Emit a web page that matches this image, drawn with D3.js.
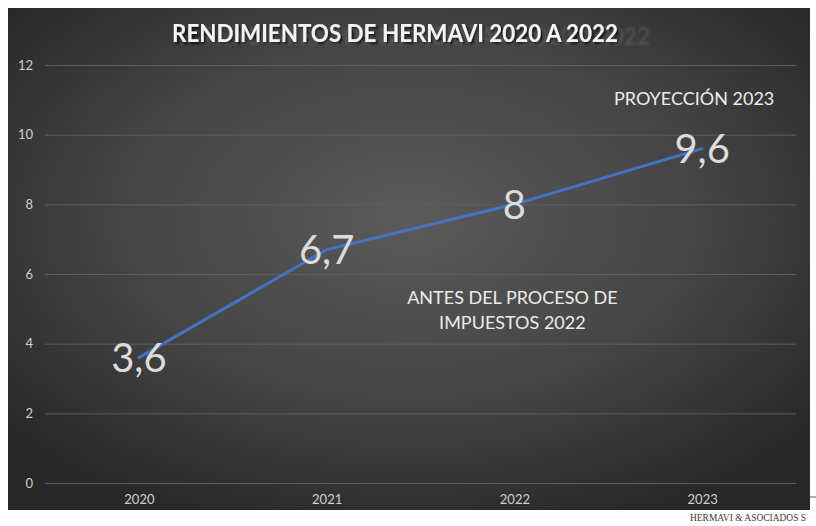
<!DOCTYPE html>
<html>
<head>
<meta charset="utf-8">
<script src="https://cdn.jsdelivr.net/npm/d3@7"></script>
<style>
  html, body { margin: 0; padding: 0; background: #fff; }
  svg { display: block; }
</style>
</head>
<body>
<div id="chart"></div>
<script>
/* Rendimientos de Hermavi, dark Excel-style line chart */

const years = ["2020", "2021", "2022", "2023"];
const rendimientos = [3.6, 6.7, 8, 9.6];
const yTicks = [0, 2, 4, 6, 8, 10, 12];
const valueLabels = ["3,6", "6,7", "8", "9,6"];
const titleText = "RENDIMIENTOS DE HERMAVI 2020 A 2022";
const notes = [
  { lines: ["PROYECCIÓN 2023"], year: "2023", value: 10.85, dx: -8 },
  { lines: ["ANTES DEL PROCESO DE", "IMPUESTOS 2022"], year: "2022", value: 5.13, dx: -2 }
];

const width = 816, height = 526;
const frame = { x: 8, y: 8, w: 802, h: 502 };
const margin = { top: 65, right: 16, bottom: 43, left: 45 };
const font = "Lato, 'Open Sans', sans-serif";

const svg = d3.select("#chart").append("svg")
  .attr("width", width)
  .attr("height", height);

const defs = svg.append("defs");
const grad = defs.append("radialGradient")
  .attr("id", "bg")
  .attr("cx", "50%").attr("cy", "42%").attr("r", "65%");
grad.append("stop").attr("offset", "0%").attr("stop-color", "#5a5a5a");
grad.append("stop").attr("offset", "55%").attr("stop-color", "#454545");
grad.append("stop").attr("offset", "100%").attr("stop-color", "#282828");

// title: a close drop shadow plus the faint offset "ghost" seen in the picture
const tf = defs.append("filter").attr("id", "titlefx")
  .attr("x", "-5%").attr("y", "-40%").attr("width", "115%").attr("height", "180%");
tf.append("feOffset").attr("in", "SourceAlpha").attr("dx", 32).attr("dy", 3).attr("result", "off1");
tf.append("feGaussianBlur").attr("in", "off1").attr("stdDeviation", 1).attr("result", "blur1");
tf.append("feColorMatrix").attr("in", "blur1").attr("type", "matrix")
  .attr("values", "0 0 0 0 0.12  0 0 0 0 0.12  0 0 0 0 0.12  0 0 0 0.5 0").attr("result", "ghost");
tf.append("feOffset").attr("in", "SourceAlpha").attr("dx", 1.5).attr("dy", 2).attr("result", "off2");
tf.append("feGaussianBlur").attr("in", "off2").attr("stdDeviation", 1.2).attr("result", "blur2");
tf.append("feColorMatrix").attr("in", "blur2").attr("type", "matrix")
  .attr("values", "0 0 0 0 0  0 0 0 0 0  0 0 0 0 0  0 0 0 0.75 0").attr("result", "shade");
const merge = tf.append("feMerge");
merge.append("feMergeNode").attr("in", "ghost");
merge.append("feMergeNode").attr("in", "shade");
merge.append("feMergeNode").attr("in", "SourceGraphic");

// Background
svg.append("rect")
  .attr("x", frame.x).attr("y", frame.y)
  .attr("width", frame.w).attr("height", frame.h)
  .attr("fill", "url(#bg)");

const x = d3.scalePoint()
  .domain(years)
  .range([margin.left, width - margin.right - 4])
  .padding(0.5);

const y = d3.scaleLinear()
  .domain([0, 12])
  .range([height - margin.bottom, margin.top]);

// Grid + y labels
svg.append("g")
  .attr("transform", `translate(${margin.left}, 0)`)
  .call(d3.axisLeft(y).tickValues(yTicks).tickSize(-(width - margin.right - 4 - margin.left)).tickPadding(12))
  .call(g => g.selectAll(".domain").remove())
  .call(g => g.selectAll("line").attr("stroke", "#5e5e5e").attr("stroke-width", 1))
  .call(g => g.selectAll("text")
    .attr("fill", "#d0d0d0")
    .attr("font-family", font)
    .attr("font-size", 13));

// X labels
svg.append("g")
  .attr("transform", `translate(0, ${y(0)})`)
  .call(d3.axisBottom(x).tickSize(0).tickPadding(12))
  .call(g => g.selectAll(".domain").remove())
  .call(g => g.selectAll("text")
    .attr("fill", "#d0d0d0")
    .attr("font-family", font)
    .attr("font-size", 13));

// Title
svg.append("text")
  .attr("x", 395).attr("y", 42)
  .attr("text-anchor", "middle")
  .attr("font-family", font)
  .attr("font-weight", "bold")
  .attr("font-size", 25)
  .attr("textLength", 446)
  .attr("lengthAdjust", "spacingAndGlyphs")
  .attr("fill", "#f4f4f4")
  .attr("filter", "url(#titlefx)")
  .text(titleText);

// Line
const pts = years.map((yr, i) => ({ yr, v: rendimientos[i], label: valueLabels[i] }));

svg.append("path")
  .datum(pts)
  .attr("d", d3.line().x(d => x(d.yr)).y(d => y(d.v)))
  .attr("fill", "none")
  .attr("stroke", "#4472c4")
  .attr("stroke-width", 3)
  .attr("stroke-linejoin", "round")
  .attr("stroke-linecap", "round");

// Value labels, centred on the points
svg.selectAll(".val")
  .data(pts)
  .join("text")
  .attr("class", "val")
  .attr("x", d => x(d.yr))
  .attr("y", d => y(d.v))
  .attr("dy", "0.36em")
  .attr("text-anchor", "middle")
  .attr("font-family", font)
  .attr("font-size", 40)
  .attr("fill", "#dcdcdc")
  .text(d => d.label);

// Annotations
notes.forEach(n => {
  const t = svg.append("text")
    .attr("text-anchor", "middle")
    .attr("font-family", font)
    .attr("font-size", 18)
    .attr("fill", "#ececec");
  n.lines.forEach((ln, i) => {
    t.append("tspan")
      .attr("x", x(n.year) + n.dx)
      .attr("y", y(n.value) + i * 25)
      .text(ln);
  });
});

// Footer
svg.append("text")
  .attr("x", 690).attr("y", 521)
  .attr("font-family", "'Liberation Serif', 'DejaVu Serif', serif")
  .attr("font-size", 10)
  .attr("textLength", 116)
  .attr("lengthAdjust", "spacingAndGlyphs")
  .attr("fill", "#3a3a3a")
  .text("HERMAVI & ASOCIADOS S");

svg.append("line")
  .attr("x1", 810).attr("x2", 816)
  .attr("y1", 497).attr("y2", 497)
  .attr("stroke", "#555");
</script>
</body>
</html>
